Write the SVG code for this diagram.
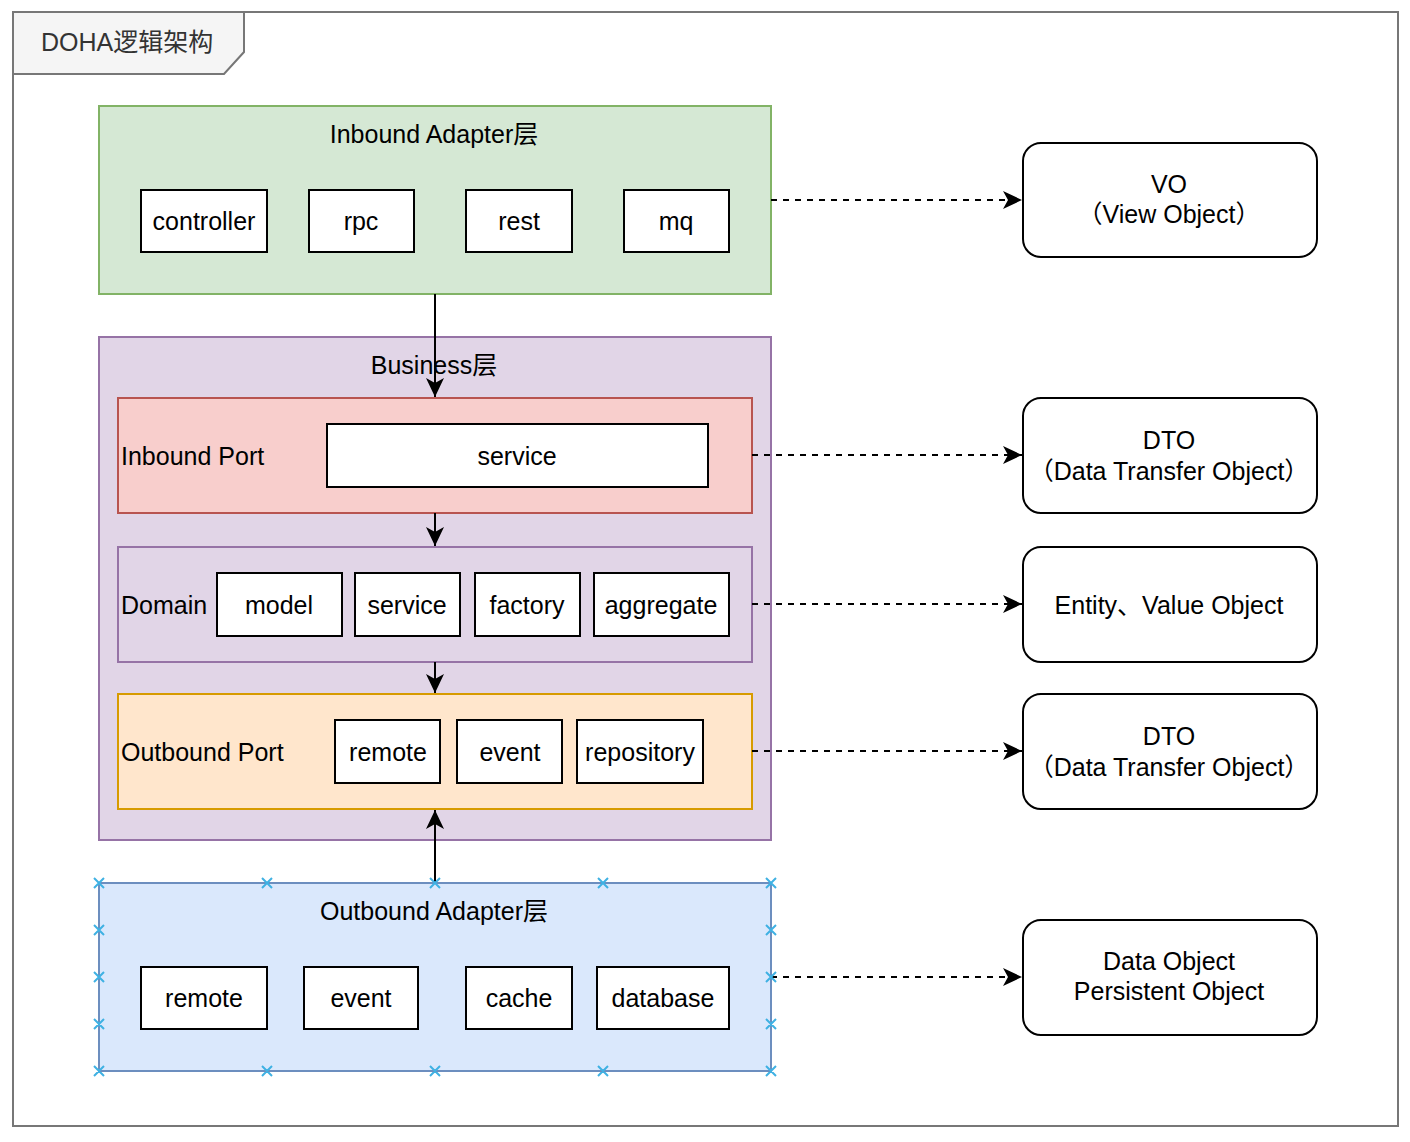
<svg xmlns="http://www.w3.org/2000/svg" width="1410" height="1142" viewBox="0 0 1410 1142">
<defs>
<style>
text{font-family:"Liberation Sans","Noto Sans CJK SC",Arial,sans-serif;font-size:25px;fill:#000;}
.c{text-anchor:middle;}
.box{fill:#fff;stroke:#000;stroke-width:2;}
.rbox{fill:#fff;stroke:#000;stroke-width:2;}
.solid{stroke:#000;stroke-width:2;fill:none;}
.dash{stroke:#000;stroke-width:2;fill:none;stroke-dasharray:6 6;}
.x{stroke:#3fb1e3;stroke-width:2;}
</style>
<marker id="ahb" viewBox="0 0 20 20" refX="19" refY="10" markerWidth="20" markerHeight="20" markerUnits="userSpaceOnUse" orient="auto">
<path d="M0,1 L19,10 L0,19 L5,10 Z" fill="#000"/>
</marker>
</defs>
<rect width="1410" height="1142" fill="#fff"/>
<g id="frame">
<rect x="13" y="12" width="1385" height="1114" fill="none" stroke="#777" stroke-width="2"/>
<polygon points="13,12 244,12 244,52 224,74 13,74" fill="#f5f5f5" stroke="#777" stroke-width="2"/>
<text x="41" y="51" style="fill:#333">DOHA逻辑架构</text>
</g>
<g id="inbound-adapter">
<rect x="99" y="106" width="672" height="188" fill="#d5e8d4" stroke="#82b366" stroke-width="2"/>
<text class="c" x="434" y="143">Inbound Adapter层</text>
<rect class="box" x="141" y="190" width="126" height="62"/><text class="c" x="204" y="230">controller</text>
<rect class="box" x="309" y="190" width="105" height="62"/><text class="c" x="361" y="230">rpc</text>
<rect class="box" x="466" y="190" width="106" height="62"/><text class="c" x="519" y="230">rest</text>
<rect class="box" x="624" y="190" width="105" height="62"/><text class="c" x="676" y="230">mq</text>
</g>
<g id="business">
<rect x="99" y="337" width="672" height="503" fill="#e1d5e7" stroke="#9673a6" stroke-width="2"/>
<text class="c" x="434" y="374">Business层</text>
</g>
<g id="inbound-port">
<rect x="118" y="398" width="634" height="115" fill="#f8cecc" stroke="#b85450" stroke-width="2"/>
<text x="121" y="465">Inbound Port</text>
<rect class="box" x="327" y="424" width="381" height="63"/><text class="c" x="517" y="465">service</text>
</g>
<g id="domain">
<rect x="118" y="547" width="634" height="115" fill="#e1d5e7" stroke="#9673a6" stroke-width="2"/>
<text x="121" y="614">Domain</text>
<rect class="box" x="217" y="573" width="125" height="63"/><text class="c" x="279" y="614">model</text>
<rect class="box" x="355" y="573" width="105" height="63"/><text class="c" x="407" y="614">service</text>
<rect class="box" x="475" y="573" width="105" height="63"/><text class="c" x="527" y="614">factory</text>
<rect class="box" x="594" y="573" width="135" height="63"/><text class="c" x="661" y="614">aggregate</text>
</g>
<g id="outbound-port">
<rect x="118" y="694" width="634" height="115" fill="#ffe6cc" stroke="#d79b00" stroke-width="2"/>
<text x="121" y="761">Outbound Port</text>
<rect class="box" x="335" y="720" width="105" height="63"/><text class="c" x="388" y="761">remote</text>
<rect class="box" x="457" y="720" width="105" height="63"/><text class="c" x="510" y="761">event</text>
<rect class="box" x="577" y="720" width="126" height="63"/><text class="c" x="640" y="761">repository</text>
</g>
<g id="outbound-adapter">
<rect x="99" y="883" width="672" height="188" fill="#dae8fc" stroke="#6c8ebf" stroke-width="2"/>
<text class="c" x="434" y="920">Outbound Adapter层</text>
<rect class="box" x="141" y="967" width="126" height="62"/><text class="c" x="204" y="1007">remote</text>
<rect class="box" x="304" y="967" width="114" height="62"/><text class="c" x="361" y="1007">event</text>
<rect class="box" x="466" y="967" width="106" height="62"/><text class="c" x="519" y="1007">cache</text>
<rect class="box" x="597" y="967" width="132" height="62"/><text class="c" x="663" y="1007">database</text>
</g>
<g id="vo">
<rect class="rbox" x="1023" y="143" width="294" height="114" rx="18"/>
<text class="c" x="1169" y="193">VO</text>
<text class="c" x="1169" y="223">（View Object）</text>
</g>
<g id="dto1">
<rect class="rbox" x="1023" y="398" width="294" height="115" rx="18"/>
<text class="c" x="1169" y="449">DTO</text>
<text class="c" x="1169" y="480">（Data Transfer Object）</text>
</g>
<g id="entity">
<rect class="rbox" x="1023" y="547" width="294" height="115" rx="18"/>
<text class="c" x="1169" y="614">Entity、Value Object</text>
</g>
<g id="dto2">
<rect class="rbox" x="1023" y="694" width="294" height="115" rx="18"/>
<text class="c" x="1169" y="745">DTO</text>
<text class="c" x="1169" y="776">（Data Transfer Object）</text>
</g>
<g id="do">
<rect class="rbox" x="1023" y="920" width="294" height="115" rx="18"/>
<text class="c" x="1169" y="970">Data Object</text>
<text class="c" x="1169" y="1000">Persistent Object</text>
</g>
<g id="connectors">
<line class="solid" x1="435" y1="294" x2="435" y2="397" marker-end="url(#ahb)"/>
<line class="solid" x1="435" y1="513" x2="435" y2="546" marker-end="url(#ahb)"/>
<line class="solid" x1="435" y1="662" x2="435" y2="693" marker-end="url(#ahb)"/>
<line class="solid" x1="435" y1="883" x2="435" y2="810" marker-end="url(#ahb)"/>
<line class="dash" x1="771" y1="200" x2="1022" y2="200" marker-end="url(#ahb)"/>
<line class="dash" x1="752" y1="455" x2="1022" y2="455" marker-end="url(#ahb)"/>
<line class="dash" x1="752" y1="604" x2="1022" y2="604" marker-end="url(#ahb)"/>
<line class="dash" x1="752" y1="751" x2="1022" y2="751" marker-end="url(#ahb)"/>
<line class="dash" x1="771" y1="977" x2="1022" y2="977" marker-end="url(#ahb)"/>
</g>
<g id="handles" class="x">
<path class="x" d="M94,878l10,10m0,-10l-10,10 M262,878l10,10m0,-10l-10,10 M430,878l10,10m0,-10l-10,10 M598,878l10,10m0,-10l-10,10 M766,878l10,10m0,-10l-10,10
M94,1066l10,10m0,-10l-10,10 M262,1066l10,10m0,-10l-10,10 M430,1066l10,10m0,-10l-10,10 M598,1066l10,10m0,-10l-10,10 M766,1066l10,10m0,-10l-10,10
M94,925l10,10m0,-10l-10,10 M94,972l10,10m0,-10l-10,10 M94,1019l10,10m0,-10l-10,10
M766,925l10,10m0,-10l-10,10 M766,972l10,10m0,-10l-10,10 M766,1019l10,10m0,-10l-10,10"/>
</g>
</svg>
